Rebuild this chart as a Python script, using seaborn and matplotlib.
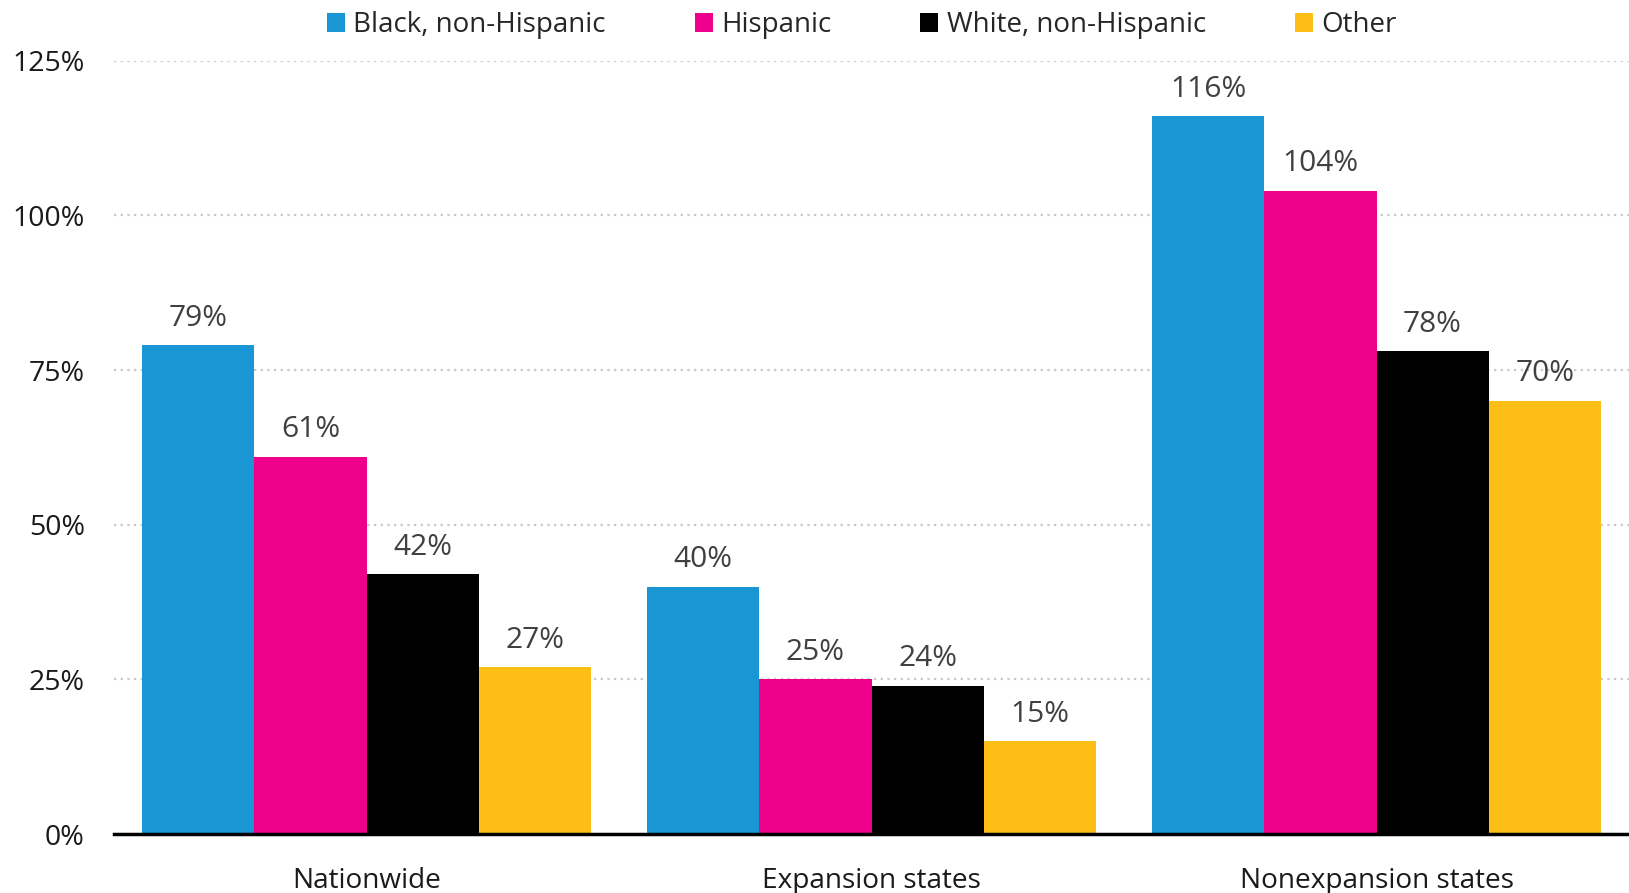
import pandas as pd
import matplotlib.pyplot as plt
import seaborn as sns

# data
regions = ['Nationwide', 'Expansion states', 'Nonexpansion states']
groups = ['Black, non-Hispanic', 'Hispanic', 'White, non-Hispanic', 'Other']
black = [79, 40, 116]
hispanic = [61, 25, 104]
white = [42, 24, 78]
other = [27, 15, 70]
colors = ['#1996D3', '#EC008C', '#000000', '#FDBE16']
yticks = [0, 25, 50, 75, 100, 125]

rows = []
for g, vals in zip(groups, [black, hispanic, white, other]):
    for r, v in zip(regions, vals):
        rows.append({'region': r, 'group': g, 'value': v})
df = pd.DataFrame(rows)

sns.set_style('white')
plt.rcParams['font.family'] = ['Open Sans', 'DejaVu Sans']

fig = plt.figure(figsize=(16.29, 8.93), dpi=100)
ax = fig.add_axes([0.070, 0.066, 0.930, 0.866])

sns.barplot(data=df, x='region', y='value', hue='group', order=regions,
            hue_order=groups, palette=colors, saturation=1, width=0.888,
            gap=0, linewidth=0, ax=ax, legend=True)

for c in ax.containers:
    ax.bar_label(c, labels=[f'{v:.0f}%' for v in c.datavalues], padding=9,
                 fontsize=21.5, color='#404040')

ax.set_ylim(0, 125)
ax.set_xlim(-0.5, 2.5)
ax.set_yticks(yticks)
ax.set_yticklabels([f'{t}%' for t in yticks])
ax.set_xlabel('')
ax.set_ylabel('')
ax.tick_params(axis='y', length=0, pad=21, labelsize=20.5, labelcolor='#1a1a1a')
ax.tick_params(axis='x', length=0, pad=24, labelsize=20.2, labelcolor='#1a1a1a')

ax.yaxis.grid(True, linestyle=(0, (1, 2)), color='#c8c8c8', linewidth=1.6)
ax.set_axisbelow(True)
for s in ['top', 'right', 'left']:
    ax.spines[s].set_visible(False)
ax.spines['bottom'].set_color('black')
ax.spines['bottom'].set_linewidth(2.5)
ax.spines['bottom'].set_zorder(5)

handles, labels = ax.get_legend_handles_labels()
ax.get_legend().remove()
fig.legend(handles, labels, loc='center', bbox_to_anchor=(0.529, 0.972),
           ncol=4, frameon=False, fontsize=20, handlelength=0.65,
           handleheight=0.65, handletextpad=0.3, columnspacing=3.2)

plt.savefig('out.png', dpi=100)
